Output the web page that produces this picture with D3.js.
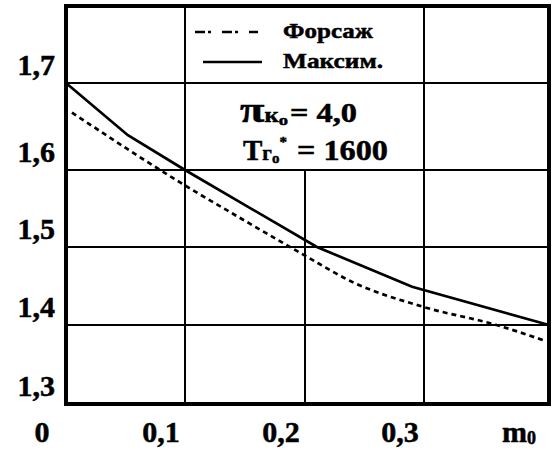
<!DOCTYPE html>
<html>
<head>
<meta charset="utf-8">
<script src="https://cdn.jsdelivr.net/npm/d3@7/dist/d3.min.js"></script>
<style>
  html, body { margin: 0; padding: 0; background: #fff; }
  svg { display: block; }
</style>
</head>
<body>
<svg id="chart" width="560" height="454"></svg>
<script>
// Relative mass flow m0 on the horizontal axis
const xTicks = [0, 0.1, 0.2, 0.3, 0.4];
const xTickLabels = ["0", "0,1", "0,2", "0,3"];
const yTicks = [1.3, 1.4, 1.5, 1.6, 1.7, 1.8];
const yTickLabels = ["1,3", "1,4", "1,5", "1,6", "1,7"];

// "Максим." regime (solid)
const maxX = [0, 0.052, 0.1, 0.21, 0.29, 0.4];
const maxY = [1.70, 1.640, 1.60, 1.50, 1.449, 1.40];

// "Форсаж" regime (dashed)
const forsX = [0.005, 0.1, 0.15, 0.2, 0.24, 0.3, 0.358, 0.395];
const forsY = [1.666, 1.58, 1.534, 1.489, 1.455, 1.423, 1.40, 1.381];

const FONT = "Liberation Serif";
const svg = d3.select("#chart");

// helper: heavy bold serif text
function label(sel, size) {
  return sel.attr("font-family", FONT).attr("font-weight", "bold")
    .attr("font-size", size).attr("fill", "#000")
    .attr("stroke", "#000").attr("stroke-width", 0.5);
}

// Grid cells are laid out on the drawing sheet cell by cell
const x = d3.scaleLinear().domain(xTicks).range([66, 185, 305, 424, 549]);
const y = d3.scaleLinear().domain(yTicks).range([404, 325, 247, 170, 83, 6]);

const g = svg.append("g");

// horizontal grid lines
g.selectAll("line.h")
  .data(yTicks.slice(1, -1))
  .join("line")
  .attr("x1", x(0)).attr("x2", x(0.4))
  .attr("y1", d => y(d)).attr("y2", d => y(d))
  .attr("stroke", "#000").attr("stroke-width", 2);

// vertical grid lines; the 0,2 line stops below the text block
const vLines = [
  { v: 0.1, top: 1.8 },
  { v: 0.2, top: 1.6 },
  { v: 0.3, top: 1.8 }
];
g.selectAll("line.v")
  .data(vLines)
  .join("line")
  .attr("x1", d => x(d.v)).attr("x2", d => x(d.v))
  .attr("y1", d => y(d.top)).attr("y2", y(1.3))
  .attr("stroke", "#000").attr("stroke-width", 2);

// frame
g.append("rect")
  .attr("x", x(0)).attr("y", y(1.8))
  .attr("width", x(0.4) - x(0)).attr("height", y(1.3) - y(1.8))
  .attr("fill", "none").attr("stroke", "#000").attr("stroke-width", 4);

// curves
const maxData = maxX.map((v, i) => [v, maxY[i]]);
const forsData = forsX.map((v, i) => [v, forsY[i]]);

g.append("path")
  .datum(maxData)
  .attr("fill", "none").attr("stroke", "#000").attr("stroke-width", 2.7)
  .attr("d", d3.line().x(d => x(d[0])).y(d => y(d[1])));

g.append("path")
  .datum(forsData)
  .attr("fill", "none").attr("stroke", "#000").attr("stroke-width", 2.7)
  .attr("stroke-dasharray", "5,4")
  .attr("d", d3.line().curve(d3.curveMonotoneX).x(d => x(d[0])).y(d => y(d[1])));

// y tick labels
svg.selectAll("text.yl")
  .data(yTickLabels)
  .join("text")
  .call(label, 30)
  .attr("x", 55)
  .attr("y", (d, i) => y(yTicks[i]) - 8)
  .attr("text-anchor", "end")
  .text(d => d);

// x tick labels
svg.selectAll("text.xl")
  .data(xTickLabels)
  .join("text")
  .call(label, 30)
  .attr("x", (d, i) => x(xTicks[i]) - 24)
  .attr("y", 442)
  .attr("text-anchor", "middle")
  .text(d => d);

// axis title m0
const mt = svg.append("text").call(label, 30)
  .attr("x", x(0.4) - 47).attr("y", 442);
mt.append("tspan").text("m");
mt.append("tspan").attr("font-size", 18).attr("dy", 2).text("0");

// legend
const legend = svg.append("g");
legend.append("line")
  .attr("x1", 195).attr("x2", 258).attr("y1", 32).attr("y2", 32)
  .attr("stroke", "#000").attr("stroke-width", 2.7)
  .attr("stroke-dasharray", "10,3,3,11");
legend.append("line")
  .attr("x1", 203).attr("x2", 262).attr("y1", 62).attr("y2", 62)
  .attr("stroke", "#000").attr("stroke-width", 2.7);
legend.append("text").call(label, 22).attr("x", 283).attr("y", 38)
  .attr("textLength", 90).attr("lengthAdjust", "spacingAndGlyphs").text("Форсаж");
legend.append("text").call(label, 22).attr("x", 283).attr("y", 68)
  .attr("textLength", 100).attr("lengthAdjust", "spacingAndGlyphs").text("Максим.");

// operating parameters: πк0 = 4,0
const p1 = svg.append("text").call(label, 36).attr("x", 240).attr("y", 122)
  .attr("textLength", 48).attr("lengthAdjust", "spacingAndGlyphs");
p1.append("tspan").text("π");
p1.append("tspan").attr("font-size", 20).text("к");
p1.append("tspan").attr("font-size", 15).attr("dy", 3).text("о");
svg.append("text").call(label, 27).attr("x", 290).attr("y", 122)
  .attr("textLength", 67).attr("lengthAdjust", "spacingAndGlyphs").text("= 4,0");

// operating parameters: Tг0* = 1600
const p2 = svg.append("text").call(label, 29).attr("x", 243).attr("y", 160);
p2.append("tspan").text("T");
p2.append("tspan").attr("font-size", 21).text("г");
p2.append("tspan").attr("font-size", 15).attr("dy", 3).text("о");
p2.append("tspan").attr("font-size", 15).attr("dy", -16).text("*");
svg.append("text").call(label, 30).attr("x", 297).attr("y", 160)
  .attr("textLength", 91).attr("lengthAdjust", "spacingAndGlyphs").text("= 1600");
</script>
</body>
</html>
